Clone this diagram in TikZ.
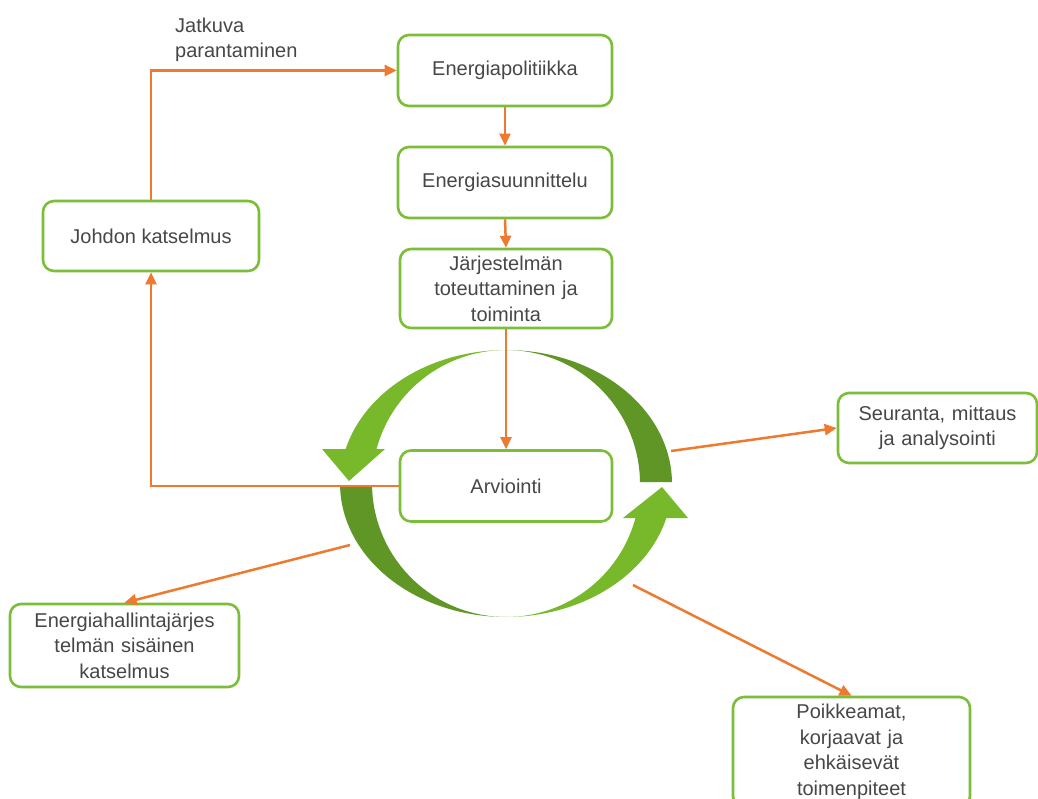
\documentclass[tikz,border=0pt]{standalone}
\usepackage{fontspec}
\setmainfont{Liberation Sans}
\usetikzlibrary{arrows.meta}
\definecolor{boxgreen}{HTML}{7CBD3A}
\definecolor{lightgreen}{HTML}{78B92B}
\definecolor{darkgreen}{HTML}{5F9625}
\definecolor{flow}{HTML}{ED7A2F}
\definecolor{txt}{HTML}{474747}
\tikzset{
  stepbox/.style={draw=boxgreen, line width=2.6pt, rounded corners=11pt, fill=white,
    text=txt, align=center, inner sep=2pt,
    font=\fontsize{20}{25.5}\selectfont},
  flowline/.style={draw=flow, line width=2.5pt, -{Triangle[length=12pt,width=11pt]}},
}
\begin{document}
\begin{tikzpicture}[x=1pt,y=-1pt]
\useasboundingbox (0,0) rectangle (1038,799);
\fill[white] (0,0) rectangle (1038,799);

% cycle of four crescent arrows around the evaluation box
\def\cx{506}\def\cy{483.5}
\fill[lightgreen] plot[domain=90:165,samples=40] ({\cx+166*cos(\x)},{\cy-133.5*sin(\x)})
  -- plot[domain=165:90,samples=40] ({\cx+134*cos(\x)},{\cy-133.5*sin(\x)}) -- cycle;
\fill[lightgreen] (322,449) -- (385,449) -- (349,481) -- cycle;
\fill[darkgreen] plot[domain=181.5:270,samples=40] ({\cx+166*cos(\x)},{\cy-133.5*sin(\x)})
  -- plot[domain=270:181.5,samples=40] ({\cx+134*cos(\x)},{\cy-133.5*sin(\x)}) -- cycle;
\fill[lightgreen] plot[domain=270:345,samples=40] ({\cx+166*cos(\x)},{\cy-133.5*sin(\x)})
  -- plot[domain=345:270,samples=40] ({\cx+134*cos(\x)},{\cy-133.5*sin(\x)}) -- cycle;
\fill[lightgreen] (623,518) -- (688,518) -- (662,487) -- cycle;
\fill[darkgreen] plot[domain=90:0.6,samples=40] ({\cx+166*cos(\x)},{\cy-133.5*sin(\x)})
  -- plot[domain=0.6:90,samples=40] ({\cx+134*cos(\x)},{\cy-133.5*sin(\x)}) -- cycle;

% process boxes
\node[stepbox, minimum width=214pt, minimum height=71pt] (pol) at (505,70.5) {Energiapolitiikka};
\node[stepbox, minimum width=214pt, minimum height=71pt] (suun) at (505,182.5) {Energiasuunnittelu};
\node[stepbox, minimum width=212pt, minimum height=79pt, text width=190pt] (tot) at (506,288.5)
  {Järjestelmän\\toteuttaminen ja\\toiminta};
\node[stepbox, minimum width=212pt, minimum height=71pt] (arv) at (506,486) {Arviointi};
\node[stepbox, minimum width=216pt, minimum height=70pt] (joh) at (151,236) {Johdon katselmus};
\node[stepbox, minimum width=199pt, minimum height=70pt, text width=185pt] (seur) at (937.5,428)
  {Seuranta, mittaus\\ja analysointi};
\node[stepbox, minimum width=229pt, minimum height=83pt, text width=215pt] (sis) at (124.5,645.5)
  {Energiahallintajärjes\\telmän sisäinen\\katselmus};
\node[stepbox, minimum width=237pt, minimum height=110pt, text width=220pt] (poik) at (851.5,752)
  {Poikkeamat,\\korjaavat ja\\ehkäisevät\\toimenpiteet};

% free ends of the connectors on the cycle
\coordinate (cR) at (671,451);
\coordinate (cL) at (350,545);
\coordinate (cB) at (633,585);

% connectors
\draw[flowline] (pol.south) -- (suun.north);
\draw[flowline] (suun.south) -- (tot.north);
\draw[flowline] (tot.south) -- (arv.north);
\draw[flowline] (joh.north) |- (pol.west);
\draw[flowline] (arv.west) -| (joh.south);
\draw[flowline] (cR) -- (seur.west);
\draw[flowline] (cL) -- (sis.north);
\draw[flowline] (cB) -- (poik.north);

% label on the feedback connector
\node[anchor=south west, text=txt, align=left, inner sep=0pt,
  font=\fontsize{20}{25.5}\selectfont] (jatk) at (175,62) {Jatkuva\\parantaminen};
\end{tikzpicture}
\end{document}
